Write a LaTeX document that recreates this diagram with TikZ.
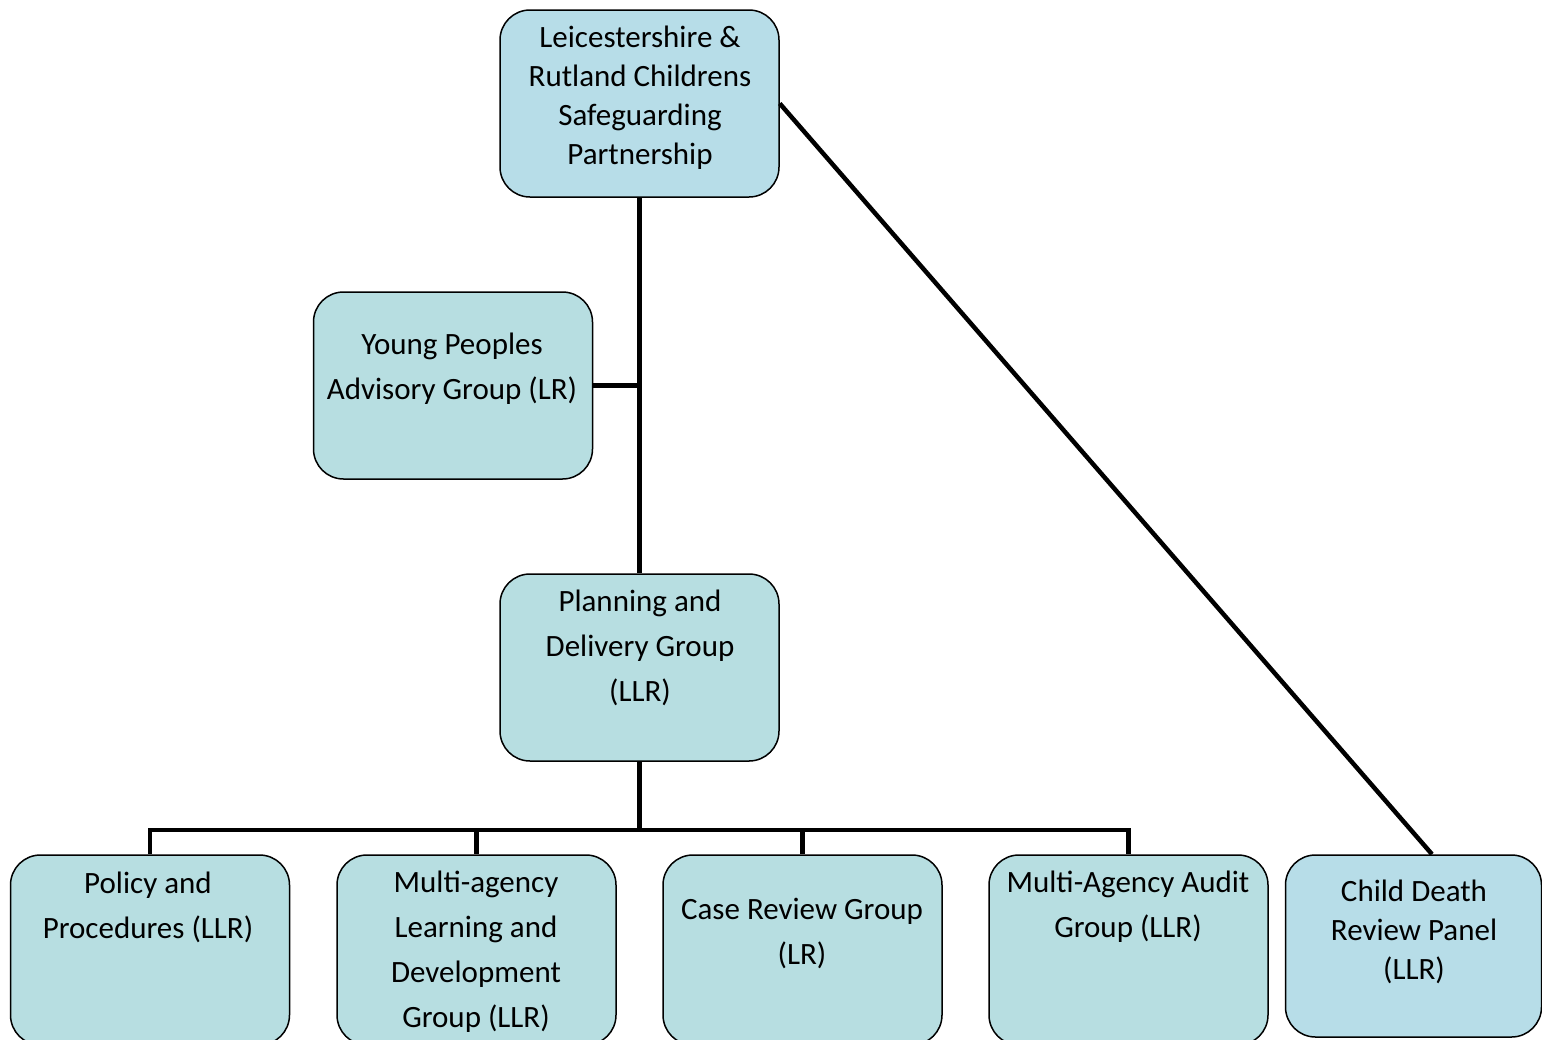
\documentclass[tikz,border=0pt]{standalone}
\usepackage{fontspec}
\setmainfont{Carlito}
\definecolor{boxteal}{RGB}{183,222,225}
\definecolor{boxblue}{RGB}{183,221,232}
\tikzset{
  orgbox/.style={draw=black, line width=1.5pt, rounded corners=30pt, fill=boxteal, minimum width=279pt, minimum height=187pt, inner sep=0pt},
  bluebox/.style={orgbox, fill=boxblue},
  txt/.style={align=center, inner sep=0pt, font=\fontsize{31}{45}\selectfont},
  txttight/.style={align=center, inner sep=0pt, font=\fontsize{31}{39}\selectfont},
  conn/.style={line width=4.5pt, line cap=rect}
}
\begin{document}
\begin{tikzpicture}[x=1pt,y=-1pt]
\useasboundingbox (0,0) rectangle (1542,1039);
\clip (0,0) rectangle (1542,1039);
% boxes
\node[bluebox] (top) at (639.5,103.5) {};
\node[orgbox] (young) at (453,385.5) {};
\node[orgbox] (plan) at (639.5,667.5) {};
\node[orgbox, minimum height=190pt] (policy) at (150,950) {};
\node[orgbox, minimum height=190pt] (multi) at (476.5,950) {};
\node[orgbox, minimum height=190pt] (case) at (802.5,950) {};
\node[orgbox, minimum height=190pt] (audit) at (1128.5,950) {};
\node[bluebox, minimum width=256pt, minimum height=182pt] (child) at (1413.5,946) {};
% connectors
\coordinate (bar) at (640,830);
\draw[conn, line cap=butt] (top.south) -- (plan.north);
\draw[conn, line cap=butt] (young.east) -- (young.east -| top.south);
\draw[conn, line cap=butt] (top.east) -- ([xshift=18.5pt]child.north);
\draw[conn, line cap=butt] (plan.south) -- (plan.south |- bar);
\draw[conn] (policy.north |- bar) -- (audit.north |- bar);
\draw[conn, line cap=butt] (policy.north |- bar) -- (policy.north);
\draw[conn, line cap=butt] (multi.north |- bar) -- (multi.north);
\draw[conn, line cap=butt] (case.north |- bar) -- (case.north);
\draw[conn, line cap=butt] (audit.north |- bar) -- (audit.north);
% texts
\node[txttight] (ttop) at (640,98) {Leicestershire \&\\Rutland Childrens\\Safeguarding\\Partnership};
\node[txt] (tyoung) at (452,369) {Young Peoples\\Advisory Group (LR)};
\node[txt] (tplan) at (640,648) {Planning and\\Delivery Group\\(LLR)};
\node[txt] (tpolicy) at (148,907) {Policy and\\Procedures (LLR)};
\node[txt] (tmulti) at (476,952) {Multi-agency\\Learning and\\Development\\Group (LLR)};
\node[txt] (tcase) at (802,933) {Case Review Group\\(LR)};
\node[txt] (taudit) at (1128,907) {Multi-Agency Audit\\Group (LLR)};
\node[txttight] (tchild) at (1414,932) {Child Death\\Review Panel\\(LLR)};
\end{tikzpicture}
\end{document}
